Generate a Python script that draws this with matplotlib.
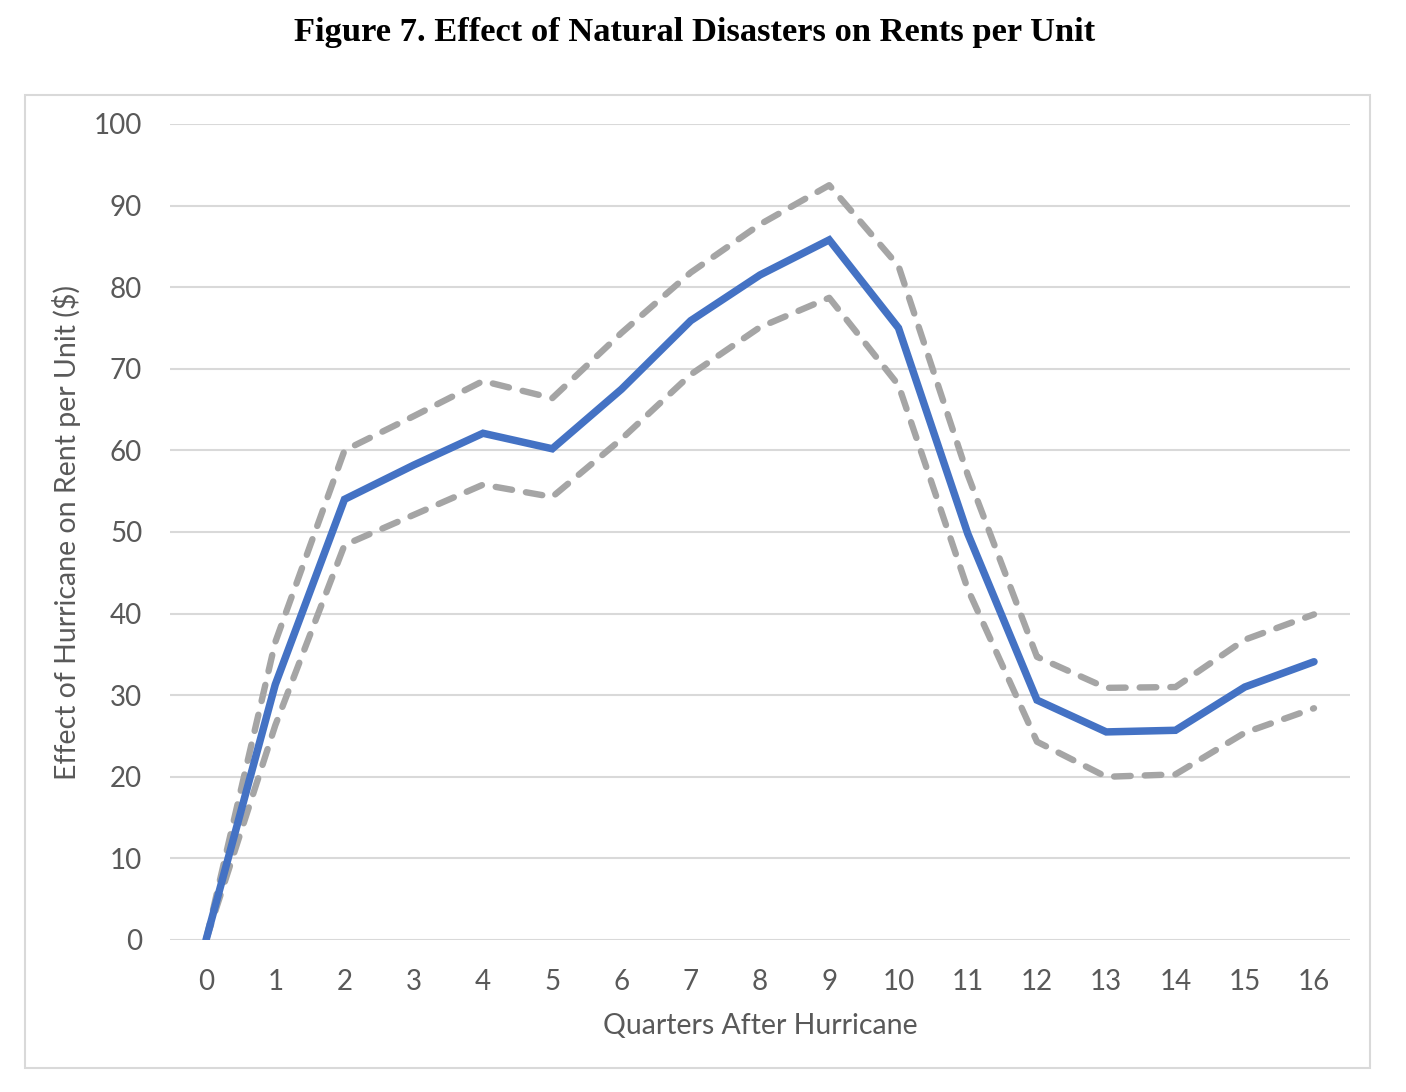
import matplotlib
matplotlib.use('Agg')
from matplotlib import pyplot as plt
from matplotlib.patches import Rectangle

quarters = list(range(17))
effect = [0, 31.3, 54.0, 58.2, 62.1, 60.2, 67.5, 75.9, 81.5, 85.8, 75.0, 49.8, 29.4, 25.5, 25.7, 31.0, 34.1]
upper = [0, 36.5, 60.0, 64.2, 68.5, 66.4, 74.4, 81.8, 87.7, 92.5, 82.6, 57.0, 34.7, 30.9, 31.0, 36.8, 39.9]
lower = [0, 26.3, 48.4, 52.1, 55.8, 54.3, 61.4, 69.3, 75.1, 78.7, 68.0, 43.0, 24.3, 20.0, 20.3, 25.4, 28.4]
yticks = list(range(0, 101, 10))

tick_color = '#595959'
grid_color = '#d9d9d9'

fig = plt.figure(figsize=(14.06, 10.92), dpi=100)
fig.patch.set_facecolor('white')

# chart area border
fig.patches.append(Rectangle((25/1406, 1-1068/1092), 1345/1406, 973/1092,
                             transform=fig.transFigure, fill=False,
                             edgecolor=grid_color, linewidth=1.5))

fig.text(695/1406, 1-33/1092, 'Figure 7. Effect of Natural Disasters on Rents per Unit',
         ha='center', va='center', fontsize=24.8, fontweight='bold',
         family='Liberation Serif')

ax = fig.add_axes([170/1406, 1-940/1092, 1180/1406, 816/1092])
ax.plot(quarters, upper, color='#a5a5a5', lw=4.6, dashes=(2.6, 2.2),
        dash_capstyle='round', zorder=3)
ax.plot(quarters, lower, color='#a5a5a5', lw=4.6, dashes=(2.6, 2.2),
        dash_capstyle='round', zorder=3)
ax.plot(quarters, effect, color='#4472c4', lw=5.4, solid_joinstyle='miter',
        solid_capstyle='round', zorder=4)

ax.set_xlim(-0.52, 16.52)
ax.set_ylim(0, 100)
ax.set_xticks(quarters)
ax.set_yticks(yticks)
ax.yaxis.grid(True, color=grid_color, lw=1.5)
ax.set_axisbelow(True)
for s in ax.spines.values():
    s.set_visible(False)
ax.tick_params(length=0, labelsize=20, labelcolor=tick_color, pad=21)
ax.tick_params(axis='y', pad=20)
for lab in ax.get_xticklabels() + ax.get_yticklabels():
    lab.set_family('Lato')

ax.set_xlabel('Quarters After Hurricane', fontsize=20.5, color=tick_color,
              family='Lato', labelpad=13)
ax.set_ylabel('Effect of Hurricane on Rent per Unit ($)', fontsize=20.5,
              color=tick_color, family='Lato', labelpad=9)

fig.savefig('out.png', dpi=100)
